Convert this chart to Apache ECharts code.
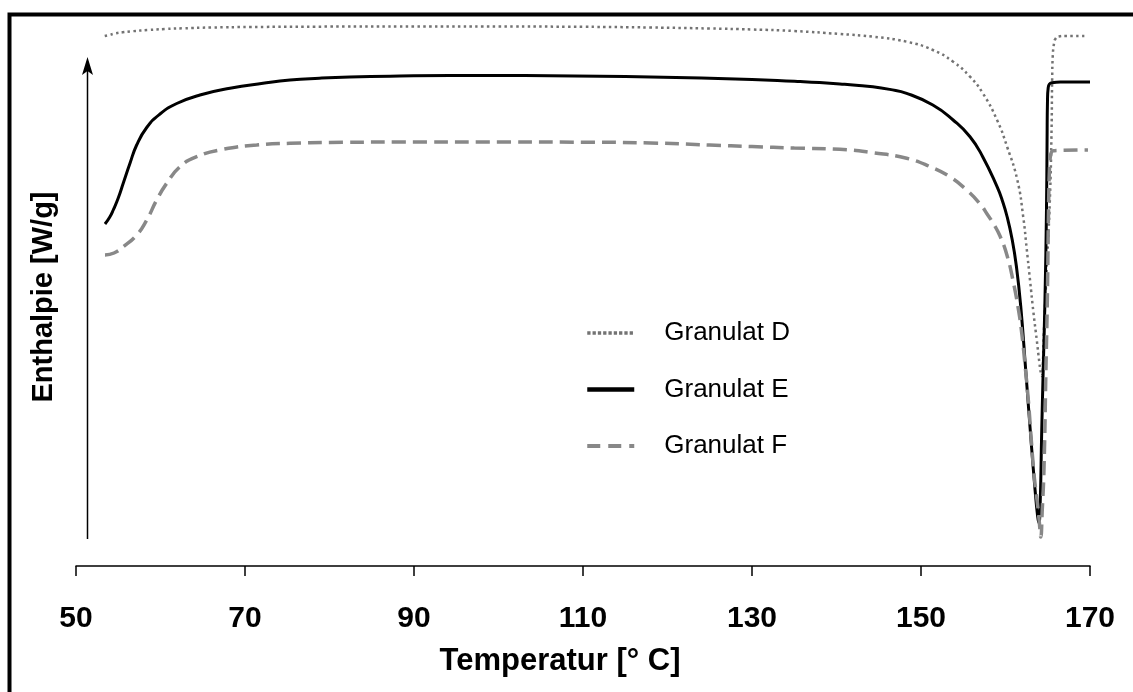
<!DOCTYPE html>
<html>
<head>
<meta charset="utf-8">
<title>DSC Granulat D, E, F</title>
<script src="https://cdn.jsdelivr.net/npm/echarts@6/dist/echarts.min.js"></script>
<style>
  html, body { margin: 0; padding: 0; background: #fff; }
  #chart { width: 1133px; height: 692px; }
</style>
</head>
<body>
<div id="chart"></div>
<script>
// Temperature axis
const xTicks = [50, 70, 90, 110, 130, 150, 170];
const xMin = 50, xMax = 170, xStep = 20;

// Series names
const seriesNames = ['Granulat D', 'Granulat E', 'Granulat F'];

// Granulat D (dotted): temperature [°C] and heat flow (arbitrary units)
const tempD = [53.4, 54.0, 54.6, 55.5, 56.7, 58.5, 60.5, 62.7, 66, 70.6, 80, 90, 100, 110, 118, 125, 130, 135,
  140.4, 144.3, 148.3, 151.4, 153.8, 155.8, 157.3, 159.0, 160.2, 161.4, 162.1, 162.5, 162.9, 163.3, 163.7, 164.0,
  164.2, 164.3, 164.55, 164.9, 165.25, 165.45, 165.52, 165.6, 165.75, 165.9, 166.3, 167, 169.4];
const enthD = [53.0, 53.12, 53.25, 53.37, 53.48, 53.6, 53.7, 53.77, 53.85, 53.9, 53.94, 53.96, 53.95, 53.92, 53.85,
  53.75, 53.65, 53.5, 53.2, 52.93, 52.43, 51.6, 50.43, 48.93, 47.3, 44.6, 41.9, 38.6, 34.9, 31.8, 28.6, 25.4, 22.6,
  20.4, 19.2, 19.0, 23.6, 30.1, 36.6, 43.6, 48.6, 51.1, 52.3, 52.7, 52.95, 53.0, 53.0];

// Granulat E (solid)
const tempE = [53.43, 54.0, 54.41, 55.0, 55.6, 56.39, 57.18, 58.37, 59.94, 61.92, 64.67, 68.22, 72.13, 75.33, 78.8,
  82.4, 88.3, 94.3, 100.2, 106, 112, 118, 124, 130, 133, 135.7, 138, 140.4, 142.3, 144.3, 146.3, 148.3, 151.4, 153.8,
  155.8, 157.3, 159.0, 159.6, 160.2, 160.8, 161.3, 161.8, 162.4, 163.0, 163.5, 163.8, 163.95, 164.1, 164.28, 164.47,
  164.67, 164.85, 164.92, 164.97, 165.05, 165.2, 165.5, 166.5, 170];
const enthE = [34.2, 34.9, 35.6, 36.8, 38.3, 40.27, 42.1, 43.85, 45.2, 46.25, 47.1, 47.77, 48.27, 48.6, 48.78,
  48.9, 49.0, 49.05, 49.05, 49.03, 48.97, 48.9, 48.8, 48.65, 48.56, 48.45, 48.34, 48.2, 48.08, 47.93, 47.66, 47.27, 46.1, 44.6,
  42.93, 40.93, 37.93, 36.6, 34.9, 32.6, 29.9, 26.0, 19.5, 12.8, 7.6, 5.0, 4.3, 6.1, 13.3, 19.9,
  26.6, 35.6, 42.6, 46.6, 47.8, 48.2, 48.33, 48.4, 48.4];

// Granulat F (dashed)
const tempF = [53.43, 54.5, 55.6, 57.18, 58.37, 59.55, 60.73, 62.31, 64.28, 67.43, 71.38, 75.33, 80, 90, 100, 110,
  118, 125, 130, 135, 140.4, 144.3, 148.3, 151.1, 153.4, 155.4, 157.0, 157.9, 158.6, 159.35, 160.2, 160.9, 161.5,
  161.92, 162.3, 162.7, 163.0, 163.3, 163.55, 163.8, 164.0, 164.17, 164.35, 164.56, 164.79, 164.95, 165.11, 165.2,
  165.3, 165.45, 165.66, 169.76];
const enthF = [31.1, 31.3, 31.93, 33.1, 34.6, 36.6, 38.27, 39.93, 40.93, 41.67, 42.1, 42.27, 42.35, 42.4, 42.4, 42.38,
  42.3, 42.1, 41.95, 41.8, 41.67, 41.33, 40.77, 39.93, 38.93, 37.6, 36.2, 35.1, 34.2, 33.0, 31.0, 28.5, 25.8,
  23.3, 20.2, 16.6, 13.2, 9.9, 7.8, 6.1, 4.4, 2.9, 5.6, 9.9, 19.9, 26.6, 36.6, 39.6,
  40.9, 41.4, 41.53, 41.6];

const pairs = (t, h) => t.map((v, i) => [v, h[i]]);

const FONT = '"Liberation Sans", Arial, Helvetica, sans-serif';

const chart = echarts.init(document.getElementById('chart'), null, { renderer: 'canvas' });

chart.setOption({
  backgroundColor: '#ffffff',
  animation: false,
  grid: { left: 76, right: 43, top: 16, bottom: 126, containLabel: false },
  xAxis: {
    type: 'value',
    min: xMin, max: xMax, interval: xStep,
    name: 'Temperatur [° C]',
    nameLocation: 'middle',
    nameGap: 80,
    nameTextStyle: { fontFamily: FONT, fontSize: 31, fontWeight: 'bold', color: '#000', padding: [0, 46, 0, 0] },
    axisLine: { show: true, lineStyle: { color: '#000', width: 1.5 } },
    axisTick: { show: true, inside: false, length: 10, lineStyle: { color: '#000', width: 1.5 } },
    axisLabel: {
      margin: 38, fontFamily: FONT, fontSize: 30, fontWeight: 'bold', color: '#000',
      formatter: v => (xTicks.includes(v) ? String(v) : '')
    },
    splitLine: { show: false }
  },
  yAxis: {
    type: 'value',
    min: 0, max: 55,
    name: 'Enthalpie [W/g]',
    nameLocation: 'middle',
    nameGap: 18,
    nameTextStyle: { fontFamily: FONT, fontSize: 29, fontWeight: 'bold', color: '#000', padding: [0, 12, 0, 0] },
    axisLine: { show: false },
    axisTick: { show: false },
    axisLabel: { show: false },
    splitLine: { show: false }
  },
  legend: {
    orient: 'vertical',
    left: 580,
    top: 313,
    itemWidth: 47,
    itemHeight: 14,
    itemGap: 26.5,
    itemStyle: { opacity: 0 },
    textStyle: { fontFamily: FONT, fontSize: 26, color: '#000', lineHeight: 30, padding: [0, 0, 0, 25] },
    data: [
      { name: seriesNames[0], lineStyle: { width: 3.5, type: [3.3, 2] } },
      { name: seriesNames[1], lineStyle: { width: 4.5 } },
      { name: seriesNames[2], lineStyle: { width: 4, type: [13, 8] } }
    ]
  },
  series: [
    {
      name: seriesNames[0], type: 'line', data: pairs(tempD, enthD),
      symbol: 'none', smooth: 0.5,
      lineStyle: { color: '#737373', width: 2.5, type: [2.5, 3.3] },
      itemStyle: { color: '#737373' }
    },
    {
      name: seriesNames[1], type: 'line', data: pairs(tempE, enthE),
      symbol: 'none', smooth: 0.5,
      lineStyle: { color: '#000000', width: 3, type: 'solid' },
      itemStyle: { color: '#000000' }
    },
    {
      name: seriesNames[2], type: 'line', data: pairs(tempF, enthF),
      symbol: 'none', smooth: 0.5,
      lineStyle: { color: '#888888', width: 3.5, type: [14, 7] },
      itemStyle: { color: '#888888' }
    }
  ],
  graphic: [
    // frame around the figure
    {
      type: 'rect', silent: true,
      shape: { x: 9.5, y: 14.5, width: 1400, height: 900 },
      style: { fill: 'none', stroke: '#000', lineWidth: 4 }
    },
    // upward enthalpy arrow
    {
      type: 'line', silent: true,
      shape: { x1: 87.5, y1: 539, x2: 87.5, y2: 66 },
      style: { stroke: '#000', lineWidth: 1.5 }
    },
    {
      type: 'polygon', silent: true,
      shape: { points: [[87.5, 57], [93, 75], [87.5, 71], [82, 75]] },
      style: { fill: '#000' }
    }
  ]
});
</script>
</body>
</html>
